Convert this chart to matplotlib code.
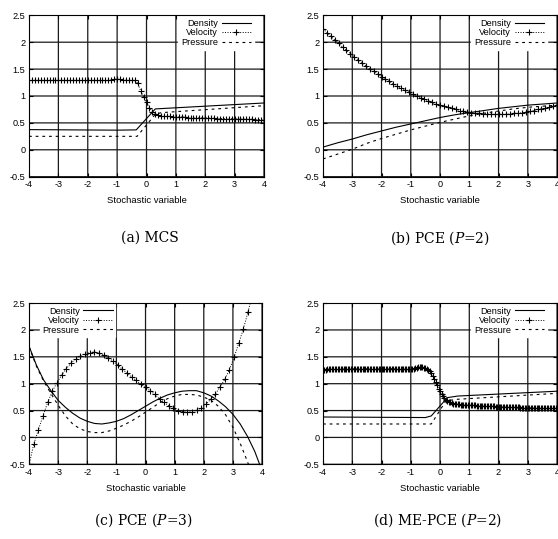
import numpy as np
import matplotlib.pyplot as plt

plt.rcParams['font.family'] = 'Liberation Sans'
plt.rcParams['mathtext.fontset'] = 'dejavuserif'

# ---------------- data ----------------
# (a) MCS
x_vel_a = np.linspace(-4, 4, 81)
vel_a = [1.29, 1.29, 1.29, 1.29, 1.29, 1.29, 1.29, 1.29, 1.29, 1.29,
         1.29, 1.29, 1.29, 1.29, 1.29, 1.29, 1.29, 1.29, 1.29, 1.29,
         1.29, 1.29, 1.29, 1.29, 1.29, 1.29, 1.29, 1.29, 1.30, 1.31,
         1.32, 1.31, 1.30, 1.29, 1.29, 1.29, 1.29, 1.24, 1.10, 0.99,
         0.88, 0.78, 0.71, 0.67, 0.64, 0.63, 0.62, 0.62, 0.62, 0.61,
         0.61, 0.61, 0.61, 0.61, 0.60, 0.60, 0.60, 0.60, 0.60, 0.59,
         0.59, 0.59, 0.59, 0.59, 0.58, 0.58, 0.58, 0.58, 0.58, 0.58,
         0.58, 0.57, 0.57, 0.57, 0.57, 0.57, 0.57, 0.56, 0.56, 0.56, 0.56]
x_den_a = [-4, -1, -0.35, 0.3, 4]
den_a = [0.375, 0.365, 0.37, 0.76, 0.87]
x_pre_a = [-4, -0.32, 0.3, 0.5, 4]
pre_a = [0.25, 0.25, 0.66, 0.69, 0.82]

# (b) PCE P=2
x_vel_b = np.linspace(-4, 4, 61)
vel_b = [2.25, 2.18, 2.11, 2.04, 1.98, 1.91, 1.85, 1.79, 1.73, 1.67,
         1.62, 1.56, 1.51, 1.46, 1.41, 1.36, 1.31, 1.27, 1.23, 1.18,
         1.14, 1.11, 1.07, 1.03, 1.00, 0.97, 0.94, 0.91, 0.88, 0.85,
         0.83, 0.81, 0.79, 0.77, 0.75, 0.73, 0.72, 0.71, 0.69, 0.69,
         0.68, 0.67, 0.67, 0.66, 0.66, 0.66, 0.66, 0.66, 0.67, 0.68,
         0.68, 0.69, 0.70, 0.72, 0.73, 0.75, 0.76, 0.77, 0.79, 0.81, 0.83]
x_line_b = np.linspace(-4, 4, 17)
den_b = [0.05, 0.13, 0.20, 0.28, 0.35, 0.42, 0.48, 0.54, 0.60,
         0.65, 0.69, 0.73, 0.77, 0.80, 0.83, 0.85, 0.87]
pre_b = [-0.17, -0.08, 0.01, 0.12, 0.21, 0.29, 0.37, 0.44, 0.51,
         0.57, 0.63, 0.68, 0.72, 0.76, 0.79, 0.81, 0.83]

# (c) PCE P=3
x_vel_c = np.linspace(-4, 4, 51)
vel_c = [-0.52, -0.13, 0.14, 0.40, 0.65, 0.86, 1.02, 1.16, 1.28, 1.38,
         1.46, 1.52, 1.56, 1.58, 1.59, 1.57, 1.53, 1.48, 1.42, 1.35,
         1.27, 1.20, 1.13, 1.06, 0.99, 0.93, 0.87, 0.80, 0.72, 0.65,
         0.59, 0.54, 0.50, 0.48, 0.47, 0.48, 0.51, 0.55, 0.62, 0.71,
         0.81, 0.94, 1.08, 1.26, 1.49, 1.75, 2.02, 2.34, 2.68, 3.05, 3.45]
x_line_c = np.linspace(-4, 4, 33)
den_c = [1.70, 1.35, 1.07, 0.87, 0.69, 0.56, 0.45, 0.36, 0.30, 0.26,
         0.25, 0.27, 0.30, 0.35, 0.42, 0.50, 0.58, 0.66, 0.73, 0.79,
         0.83, 0.86, 0.87, 0.87, 0.83, 0.77, 0.68, 0.57, 0.43, 0.25,
         0.02, -0.26, -0.62]
pre_c = [1.69, 1.33, 1.05, 0.82, 0.60, 0.40, 0.25, 0.16, 0.11, 0.09,
         0.09, 0.12, 0.17, 0.23, 0.30, 0.38, 0.47, 0.56, 0.65, 0.72,
         0.77, 0.80, 0.80, 0.79, 0.75, 0.69, 0.58, 0.42, 0.19, -0.11,
         -0.45, -0.85, -1.30]

# (d) ME-PCE P=2
x_vel_d = np.linspace(-4, 4, 161)
vel_d = [1.26, 1.26, 1.26, 1.27, 1.27, 1.27, 1.27, 1.27, 1.27, 1.27,
         1.27, 1.27, 1.27, 1.27, 1.27, 1.28, 1.28, 1.28, 1.28, 1.28,
         1.28, 1.28, 1.28, 1.28, 1.28, 1.28, 1.28, 1.28, 1.28, 1.28,
         1.28, 1.28, 1.28, 1.28, 1.28, 1.28, 1.28, 1.28, 1.28, 1.28,
         1.28, 1.28, 1.28, 1.28, 1.28, 1.28, 1.28, 1.28, 1.28, 1.28,
         1.28, 1.28, 1.28, 1.27, 1.27, 1.27, 1.27, 1.27, 1.27, 1.27,
         1.27, 1.27, 1.28, 1.29, 1.30, 1.31, 1.31, 1.31, 1.31, 1.30,
         1.29, 1.28, 1.26, 1.23, 1.19, 1.14, 1.09, 1.03, 0.97, 0.91,
         0.86, 0.81, 0.77, 0.73, 0.70, 0.68, 0.66, 0.65, 0.64, 0.63,
         0.63, 0.62, 0.62, 0.62, 0.61, 0.61, 0.61, 0.61, 0.60, 0.60,
         0.60, 0.60, 0.60, 0.60, 0.60, 0.59, 0.59, 0.59, 0.59, 0.59,
         0.59, 0.58, 0.58, 0.58, 0.58, 0.58, 0.58, 0.58, 0.57, 0.57,
         0.57, 0.57, 0.57, 0.57, 0.57, 0.56, 0.56, 0.56, 0.56, 0.56,
         0.56, 0.56, 0.56, 0.56, 0.56, 0.55, 0.55, 0.55, 0.55, 0.55,
         0.55, 0.55, 0.55, 0.55, 0.55, 0.55, 0.55, 0.55, 0.54, 0.54,
         0.54, 0.54, 0.54, 0.54, 0.54, 0.54, 0.54, 0.54, 0.54, 0.54, 0.54]
x_den_d = [-4, -0.5, -0.3, 0.25, 0.6, 4]
den_d = [0.38, 0.37, 0.40, 0.74, 0.77, 0.86]
x_pre_d = [-4, -0.3, 0.2, 0.6, 4]
pre_d = [0.25, 0.25, 0.68, 0.71, 0.82]

xticks = [-4, -3, -2, -1, 0, 1, 2, 3, 4]
xtick_labels = ['-4', '-3', '-2', '-1', '0', '1', '2', '3', '4']
yticks = [-0.5, 0, 0.5, 1, 1.5, 2, 2.5]
ytick_labels = ['-0.5', '0', '0.5', '1', '1.5', '2', '2.5']
series_names = ['Density', 'Velocity', 'Pressure']
captions = ['(a) MCS', '(b) PCE ($P$=2)', '(c) PCE ($P$=3)', '(d) ME-PCE ($P$=2)']


def panel(ax, xd, den, xv, vel, xp, pre, leg_loc, leg_anchor):
    '''draws one gnuplot-like panel with the three flow quantities'''
    # grid drawn by hand at every tick, behind the curves
    for xt in xticks:
        ax.axvline(xt, color='0.1', lw=0.9, zorder=1, snap=False)
    for yt in yticks:
        ax.axhline(yt, color='0.1', lw=0.9, zorder=1, snap=False)

    ax.plot(xd, den, color='black', lw=0.8, label=series_names[0], zorder=2)
    ax.plot(xv, vel, color='black', lw=0.7, ls=(0, (1, 1.6)), marker='+',
            ms=4, mew=0.8, label=series_names[1], zorder=2)
    ax.plot(xp, pre, color='black', lw=0.8, ls=(0, (2.5, 3.5)),
            label=series_names[2], zorder=2)

    ax.set_xlim(-4, 4)
    ax.set_ylim(-0.5, 2.5)
    ax.set_xticks(xticks)
    ax.set_xticklabels(xtick_labels)
    ax.set_yticks(yticks)
    ax.set_yticklabels(ytick_labels)
    ax.tick_params(direction='in', length=3, width=0.8, labelsize=6.6,
                   top=True, right=True, pad=2.5)
    for s in ax.spines.values():
        s.set_linewidth(0.8)
        s.set_zorder(6)
    ax.set_xlabel('Stochastic variable', fontsize=6.8, labelpad=5)

    leg = ax.legend(loc=leg_loc, bbox_to_anchor=leg_anchor, borderaxespad=0,
                    fontsize=6.6, markerfirst=False, handlelength=3.2,
                    handletextpad=0.4, labelspacing=0.05, borderpad=0.3,
                    numpoints=1, fancybox=False, framealpha=1,
                    edgecolor='white', facecolor='white')
    leg.set_zorder(5)


fig = plt.figure(figsize=(5.58, 5.39), dpi=100)

ax_a = fig.add_axes([0.0520, 0.6722, 0.4211, 0.2994])
ax_b = fig.add_axes([0.5789, 0.6722, 0.4194, 0.2994])
ax_c = fig.add_axes([0.0520, 0.1386, 0.4176, 0.2991])
ax_d = fig.add_axes([0.5789, 0.1386, 0.4194, 0.2991])

panel(ax_a, x_den_a, den_a, x_vel_a, vel_a, x_pre_a, pre_a, 'upper right', (0.956, 0.995))
panel(ax_b, x_line_b, den_b, x_vel_b, vel_b, x_line_b, pre_b, 'upper right', (0.956, 0.995))
panel(ax_c, x_line_c, den_c, x_vel_c, vel_c, x_line_c, pre_c, 'upper left', (0.047, 0.995))
panel(ax_d, x_den_d, den_d, x_vel_d, vel_d, x_pre_d, pre_d, 'upper right', (0.956, 0.995))

# sub-figure captions
cap_pos = [(150, 238), (440, 238), (143, 520), (438, 520)]
for (cx, cy), cap in zip(cap_pos, captions):
    fig.text(cx / 558, 1 - cy / 539, cap, ha='center', va='center',
             family='DejaVu Serif', fontsize=10)

plt.savefig('out.png', dpi=100)
